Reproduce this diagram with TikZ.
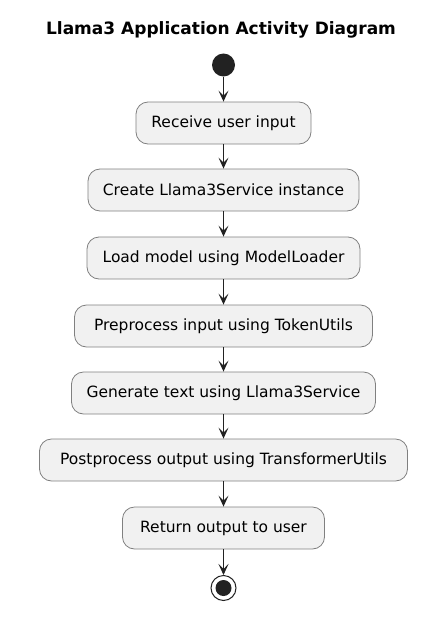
\documentclass[tikz,border=0pt]{standalone}
\usepackage{fontspec}
\setmainfont{DejaVu Sans}
\usetikzlibrary{arrows.meta}
\definecolor{boxfill}{HTML}{F1F1F1}
\definecolor{boxline}{HTML}{808080}
\definecolor{arrowline}{HTML}{222222}
\definecolor{dotfill}{HTML}{222222}
\tikzset{
  activity/.style={draw=boxline, line width=0.8pt, fill=boxfill, rounded corners=12pt,
    minimum height=42pt, inner sep=0pt, font=\fontsize{15.5}{18}\selectfont},
  flow/.style={draw=arrowline, line width=1.2pt, -{Stealth[length=11pt,width=10pt,inset=5pt]}},
}
\begin{document}
\begin{tikzpicture}[x=1pt, y=-1pt]
  \useasboundingbox (0,0) rectangle (425,618);
  \node[font=\fontsize{17}{20}\selectfont\bfseries] (title) at (221,30) {Llama3 Application Activity Diagram};
  \node[circle, fill=dotfill, minimum size=23pt, inner sep=0pt] (start) at (223.5,65) {};
  \node[activity, minimum width=175pt] (recv) at (223.5,123) {Receive user input};
  \node[activity, minimum width=271pt] (create) at (223.5,190) {Create Llama3Service instance};
  \node[activity, minimum width=273pt] (load) at (223.5,258) {Load model using ModelLoader};
  \node[activity, minimum width=298pt] (prep) at (223.5,326) {Preprocess input using TokenUtils};
  \node[activity, minimum width=304pt] (gen) at (223.5,393) {Generate text using Llama3Service};
  \node[activity, minimum width=368pt] (post) at (223.5,460) {Postprocess output using TransformerUtils};
  \node[activity, minimum width=202pt] (ret) at (223.5,528) {Return output to user};
  \node[circle, draw=arrowline, line width=1pt, fill=white, minimum size=25pt, inner sep=0pt] (stop) at (223.5,588) {};
  \fill[dotfill] (stop) circle (8pt);
  \draw[flow] (start) -- (recv);
  \draw[flow] (recv) -- (create);
  \draw[flow] (create) -- (load);
  \draw[flow] (load) -- (prep);
  \draw[flow] (prep) -- (gen);
  \draw[flow] (gen) -- (post);
  \draw[flow] (post) -- (ret);
  \draw[flow] (ret) -- (stop);
\end{tikzpicture}
\end{document}
